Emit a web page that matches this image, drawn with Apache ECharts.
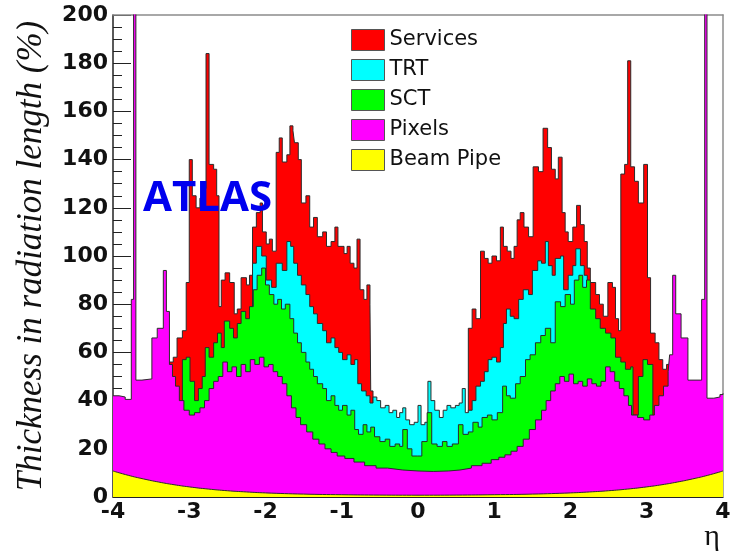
<!DOCTYPE html>
<html><head><meta charset="utf-8">
<script src="https://cdn.jsdelivr.net/npm/echarts@6/dist/echarts.min.js"></script>
<style>html,body{margin:0;padding:0;background:#fff}#c{width:734px;height:555px}</style>
</head><body><div id="c"></div>
<script>
// Cumulative top of each layer, [eta (left bin edge), thickness %X0]
const services = [[-4,0],[-3.26,56],[-3.21,58],[-3.16,66],[-3.09,69],[-3.04,89],[-3.00,140],[-2.96,125],[-2.91,120],[-2.86,124],[-2.81,128],[-2.78,184],[-2.74,138],[-2.68,136],[-2.64,125],[-2.61,79],[-2.58,90],[-2.53,93],[-2.47,89],[-2.41,76],[-2.37,78],[-2.32,91],[-2.25,88],[-2.21,92],[-2.17,112],[-2.12,118],[-2.07,122],[-2.04,110],[-1.99,105],[-1.95,107],[-1.91,102],[-1.86,143],[-1.82,149],[-1.78,139],[-1.72,142],[-1.68,154],[-1.64,152],[-1.62,147],[-1.57,140],[-1.53,122],[-1.47,125],[-1.42,112],[-1.37,116],[-1.32,108],[-1.25,110],[-1.20,104],[-1.14,106],[-1.09,112],[-1.05,104],[-0.97,101],[-0.93,104],[-0.89,97],[-0.84,95],[-0.80,107],[-0.76,86],[-0.71,82],[-0.67,88],[-0.63,80],[-0.62,44],[-0.59,0],
 [0.66,70],[0.71,78],[0.76,74],[0.82,102],[0.87,99],[0.92,97],[0.97,100],[1.03,98],[1.08,112],[1.12,104],[1.17,102],[1.22,99],[1.26,104],[1.30,115],[1.34,118],[1.39,112],[1.45,108],[1.51,137],[1.58,135],[1.64,153],[1.70,145],[1.75,136],[1.80,132],[1.84,141],[1.89,118],[1.93,110],[1.97,106],[2.03,112],[2.08,121],[2.13,113],[2.18,106],[2.22,95],[2.26,89],[2.33,84],[2.38,80],[2.43,75],[2.49,89],[2.55,87],[2.59,74],[2.63,69],[2.66,134],[2.71,138],[2.75,181],[2.79,137],[2.84,131],[2.89,122],[2.96,138],[3.01,91],[3.05,68],[3.11,64],[3.16,57],[3.21,53],[3.26,55],[3.30,0],[4,0]];
const trt = [[-4,0],[-2.17,97],[-2.12,104],[-2.05,100],[-1.99,90],[-1.92,87],[-1.86,97],[-1.78,94],[-1.72,106],[-1.67,104],[-1.63,97],[-1.58,92],[-1.53,88],[-1.47,84],[-1.42,79],[-1.37,76],[-1.32,72],[-1.25,69],[-1.20,64],[-1.14,66],[-1.09,62],[-1.04,60],[-0.99,57],[-0.93,59],[-0.88,55],[-0.83,57],[-0.79,47],[-0.74,44],[-0.68,42],[-0.63,39],[-0.59,41.5],[-0.54,40],[-0.49,37],[-0.43,38],[-0.38,35],[-0.33,36],[-0.28,33],[-0.24,35],[-0.20,37],[-0.16,32],[-0.11,30],[-0.05,31],[0.00,38],[0.04,30],[0.09,31],[0.13,48],[0.17,40],[0.22,36],[0.28,33],[0.33,36],[0.38,38],[0.43,37],[0.49,38],[0.54,39],[0.58,45],[0.62,35],[0.66,36],[0.71,40],[0.76,46],[0.82,48],[0.87,52],[0.92,57],[0.97,58],[1.03,56],[1.08,62],[1.12,72],[1.16,78],[1.21,75],[1.26,74],[1.32,82],[1.38,86],[1.45,84],[1.50,94],[1.57,98],[1.62,97],[1.67,106],[1.71,96],[1.76,92],[1.80,99],[1.87,100],[1.91,86],[1.97,92],[2.03,96],[2.07,103],[2.13,96],[2.18,92],[2.22,0],[4,0]];
const sct = [[-4,0],[-3.09,57],[-3.04,58],[-2.99,48],[-2.93,40],[-2.88,45],[-2.83,50],[-2.79,62],[-2.74,58],[-2.68,64],[-2.63,68],[-2.58,62],[-2.54,73],[-2.47,70],[-2.42,66],[-2.37,72],[-2.32,77],[-2.26,74],[-2.21,79],[-2.16,86],[-2.11,92],[-2.05,95],[-2.00,88],[-1.95,84],[-1.89,80],[-1.84,82],[-1.79,78],[-1.74,80],[-1.68,74],[-1.63,68],[-1.58,64],[-1.53,60],[-1.47,56],[-1.42,53],[-1.37,50],[-1.32,47],[-1.25,45],[-1.20,40],[-1.14,42],[-1.09,38],[-1.04,36],[-0.99,38],[-0.93,34],[-0.88,36],[-0.83,28],[-0.78,26],[-0.72,30],[-0.67,27],[-0.62,29],[-0.57,25],[-0.50,23],[-0.43,24],[-0.37,21],[-0.30,22],[-0.24,21],[-0.20,28],[-0.14,20],[-0.08,17],[-0.01,17],[0.05,23],[0.12,35],[0.18,22],[0.25,21],[0.32,23],[0.38,21],[0.45,22],[0.53,30],[0.59,26],[0.66,27],[0.72,31],[0.79,29],[0.84,33],[0.91,34],[0.97,32],[1.04,35],[1.11,46],[1.16,42],[1.21,41],[1.28,47],[1.34,50],[1.41,57],[1.47,59],[1.54,64],[1.61,67],[1.67,70],[1.74,64],[1.80,81],[1.87,79],[1.93,84],[2.00,80],[2.05,90],[2.11,92],[2.16,87],[2.21,90],[2.26,78],[2.33,74],[2.39,70],[2.46,68],[2.53,66],[2.59,58],[2.66,56],[2.72,53],[2.79,54],[2.82,34],[2.89,50],[2.95,57],[3.01,55],[3.08,0],[4,0]];
const pixels = [[-4.00,42],[-3.92,41.5],[-3.84,40.5],[-3.76,82],[-3.73,250],[-3.70,48.5],[-3.62,49],[-3.49,66],[-3.42,70],[-3.34,94],[-3.30,77],[-3.26,55],[-3.22,50],[-3.18,46],[-3.13,40],[-3.07,36],[-3.00,34],[-2.93,35],[-2.86,37],[-2.80,40],[-2.74,45],[-2.68,48],[-2.62,50],[-2.56,56],[-2.50,52],[-2.44,54],[-2.38,50],[-2.32,55],[-2.26,52],[-2.20,57],[-2.14,55],[-2.08,58],[-2.02,54],[-1.96,55],[-1.90,52],[-1.84,50],[-1.78,47],[-1.72,42],[-1.66,37],[-1.60,33],[-1.54,30],[-1.46,27],[-1.38,24],[-1.30,22],[-1.22,20],[-1.14,18.5],[-1.06,17],[-0.96,16],[-0.84,14.5],[-0.70,13],[-0.55,12],[-0.40,11.2],[-0.20,10.8],[0.00,10.6],[0.20,10.8],[0.40,11.2],[0.55,12],[0.70,13],[0.84,14],[0.96,15.5],[1.06,16.5],[1.14,17.5],[1.22,19],[1.30,21],[1.38,24],[1.46,28],[1.54,32],[1.62,36],[1.68,40],[1.74,44],[1.80,47],[1.86,50],[1.92,48],[1.98,51],[2.04,47],[2.10,48],[2.16,46],[2.22,49],[2.28,47],[2.34,46],[2.40,48],[2.46,54],[2.52,52],[2.58,48],[2.64,45],[2.70,42],[2.76,38],[2.80,34],[2.88,33],[2.96,32],[3.04,34],[3.10,38],[3.16,42],[3.22,46],[3.28,52],[3.30,59],[3.34,92],[3.38,76],[3.45,66],[3.54,48.5],[3.72,82],[3.76,250],[3.79,41],[3.88,41.5],[3.96,42.5],[4.00,43]];
const beamPipe = [[-4,10.8],[-3.8,9],[-3.6,7.5],[-3.4,6.2],[-3.2,5.1],[-3,4.2],[-2.75,3.3],[-2.5,2.6],[-2.25,2.1],[-2,1.7],[-1.5,1.2],[-1,0.95],[-0.5,0.8],[0,0.75],[0.5,0.8],[1,0.95],[1.5,1.2],[2,1.7],[2.25,2.1],[2.5,2.6],[2.75,3.3],[3,4.2],[3.2,5.1],[3.4,6.2],[3.6,7.5],[3.8,9],[4,10.8]];

const names = ['Services','TRT','SCT','Pixels','Beam Pipe'];
const colors = ['#ff0000','#00ffff','#00ff00','#ff00ff','#ffff00'];
const layers = [services, trt, sct, pixels, beamPipe];

const chart = echarts.init(document.getElementById('c'), null, {renderer:'canvas'});
const outline = '#2b2b2b';
const frame = {show:true,lineStyle:{color:'#8c8c8c',width:1.5}};
const G = {left:113,right:11,top:15,bottom:58};
const hiddenX = (gi)=>({type:'value',gridIndex:gi,min:0,max:1,show:false});
chart.setOption({
  animation:false,
  backgroundColor:'#fff',
  grid:[
    Object.assign({show:false},G),
    {left:113,width:18,top:15,bottom:58,show:false},   // major tick strip
    {left:113,width:9,top:15,bottom:58,show:false}     // minor tick strip
  ],
  legend:{
    orient:'vertical',left:346,top:24,itemWidth:33,itemHeight:21,itemGap:8,selectedMode:false,
    icon:'rect',z:20,
    textStyle:{fontFamily:'DejaVu Sans',fontSize:21,color:'#111'},
    data:names.map((n,i)=>({name:n,itemStyle:{color:colors[i],borderColor:'#555',borderWidth:1}}))
  },
  xAxis:[{type:'value',gridIndex:0,min:-4,max:4,interval:1,position:'bottom',
    axisLine:{show:true,onZero:false,lineStyle:{color:'#222',width:1}},
    axisTick:{show:false},splitLine:{show:false},
    axisLabel:{fontFamily:'DejaVu Sans',fontWeight:'bold',fontSize:22,color:'#111',margin:4}},
    {type:'value',gridIndex:0,min:-4,max:4,interval:1,position:'top',
    axisLine:Object.assign({onZero:false},frame),axisTick:{show:false},axisLabel:{show:false},splitLine:{show:false}},
    hiddenX(1), hiddenX(2)],
  yAxis:[{type:'value',gridIndex:0,min:0,max:200,interval:20,position:'left',
    axisLine:{show:true,onZero:false,lineStyle:{color:'#222',width:1.5}},
    axisTick:{show:false},
    splitLine:{show:false},
    axisLabel:{fontFamily:'DejaVu Sans',fontWeight:'bold',fontSize:22,color:'#111',margin:5}},
    {type:'value',gridIndex:0,min:0,max:200,interval:20,position:'right',
    axisLine:Object.assign({onZero:false},frame),axisTick:{show:false},axisLabel:{show:false},splitLine:{show:false}},
    {type:'value',gridIndex:1,min:0,max:200,interval:20,
    axisLine:{show:false},axisTick:{show:false},axisLabel:{show:false},
    splitLine:{show:true,lineStyle:{color:'#222',width:1}}},
    {type:'value',gridIndex:2,min:0,max:200,interval:20,
    axisLine:{show:false},axisTick:{show:false},axisLabel:{show:false},splitLine:{show:false},
    minorTick:{show:false,splitNumber:4},
    minorSplitLine:{show:true,lineStyle:{color:'#222',width:1}}}],
  graphic:[
    {type:'text',x:32,y:256,rotation:Math.PI/2,z:100,
      style:{text:'Thickness in radiation length (%)',font:'italic 35px "Liberation Serif"',fill:'#111',align:'center',verticalAlign:'middle'}},
    {type:'text',x:143,y:199,z:100,
      style:{text:'ATLAS',font:'bold 42px "Open Sans"',fill:'#0000ee',align:'left',verticalAlign:'middle'}},
    {type:'text',x:712,y:537,z:100,
      style:{text:'η',font:'30px "Liberation Serif"',fill:'#111',align:'center',verticalAlign:'middle'}}
  ],
  series:layers.map((d,i)=>({
    name:names[i],type:'line',data:d,z:2+i,xAxisIndex:0,yAxisIndex:0,
    step: i===4 ? false : 'end',
    smooth: i===4,
    showSymbol:false,
    clip:true,
    lineStyle:{color:outline,width:1},
    itemStyle:{color:colors[i]},
    areaStyle:{color:colors[i],opacity:1}
  }))
});
</script></body></html>
